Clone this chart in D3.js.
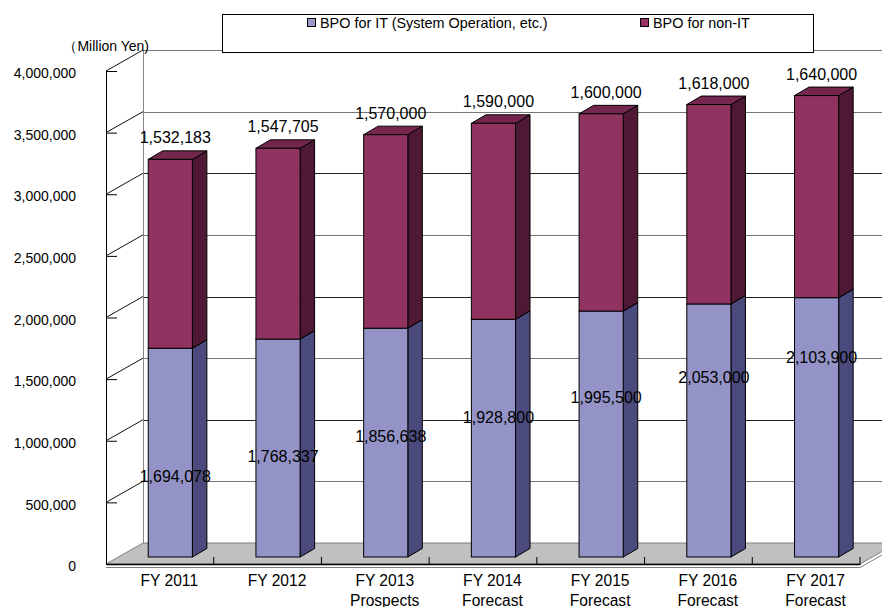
<!DOCTYPE html>
<html>
<head>
<meta charset="utf-8">
<script src="https://cdnjs.cloudflare.com/ajax/libs/d3/7.8.5/d3.min.js"></script>
<style>
  body { margin: 0; background: #fff; }
  svg { display: block; font-family: "Liberation Sans", Arial, sans-serif; }
</style>
</head>
<body>
<div class="chart"></div>
<script>
// data
var categories = ["FY 2011", "FY 2012", "FY 2013", "FY 2014", "FY 2015", "FY 2016", "FY 2017"];
var subLabels = ["", "", "Prospects", "Forecast", "Forecast", "Forecast", "Forecast"];
var itValues = [1694078, 1768337, 1856638, 1928800, 1995500, 2053000, 2103900];
var nonItValues = [1532183, 1547705, 1570000, 1590000, 1600000, 1618000, 1640000];
var seriesNames = ["BPO for IT (System Operation, etc.)", "BPO for non-IT"];
var yTicks = [0, 500000, 1000000, 1500000, 2000000, 2500000, 3000000, 3500000, 4000000];

var width = 882, height = 607;
var front = { left: 106, right: 860, bottom: 564, top: 71 };
var depth = { dx: 37, dy: -21 };       // wall depth offset
var side = { dx: 14.5, dy: -8.5 };     // bar depth offset
var lift = 7;                          // bar front sits a bit back from the front plane

var colors = {
  it:    { front: "#9393c7", side: "#4a4a7c", top: "#6f6fa3", legend: "#9999cc" },
  nonIt: { front: "#913360", side: "#4f1834", top: "#74264e", legend: "#993366" }
};

var rows = categories.map(function(c, i) {
  return { cat: c, it: itValues[i], nonIt: nonItValues[i] };
});
var stacked = d3.stack().keys(["it", "nonIt"])(rows);

var svg = d3.select(".chart").append("svg")
  .attr("width", width)
  .attr("height", height);

var x = d3.scaleBand().domain(categories).range([front.left, front.right]);
var step = x.step();
var barW = step * 0.41;
var barX = function(c) { return x(c) + step * 0.392; };

var y = d3.scaleLinear().domain([0, 4000000]).range([front.bottom, front.top]);

// back wall grid
svg.append("g").selectAll("line")
  .data(yTicks.slice(1))
  .join("line")
    .attr("x1", front.left + depth.dx)
    .attr("x2", width)
    .attr("y1", function(d) { return Math.round(y(d) + depth.dy) + 0.5; })
    .attr("y2", function(d) { return Math.round(y(d) + depth.dy) + 0.5; })
    .attr("stroke", function(d, i, all) { return (i % 2 && i < all.length - 1) ? "#222" : "#777"; });

// side wall grid
svg.append("g").selectAll("line")
  .data(yTicks.slice(1))
  .join("line")
    .attr("x1", front.left)
    .attr("y1", function(d) { return y(d); })
    .attr("x2", front.left + depth.dx)
    .attr("y2", function(d) { return y(d) + depth.dy; })
    .attr("stroke", "#111");

svg.append("line")
  .attr("x1", front.left + depth.dx + 0.5).attr("x2", front.left + depth.dx + 0.5)
  .attr("y1", y(4000000) + depth.dy).attr("y2", y(0) + depth.dy)
  .attr("stroke", "#888");

// floor
svg.append("polygon")
  .attr("points", [
    [front.left, y(0)], [front.right, y(0)],
    [front.right + depth.dx, y(0) + depth.dy], [front.left + depth.dx, y(0) + depth.dy]
  ].join(" "))
  .attr("fill", "#c0c0c0")
  .attr("stroke", "#808080");

svg.append("path")
  .attr("d", "M" + front.left + "," + (y(0) + 3.5) + "H" + front.right +
             "L" + (front.right + depth.dx) + "," + (y(0) + 3.5 + depth.dy))
  .attr("fill", "none")
  .attr("stroke", "#808080");

// bars
var layer = svg.append("g").selectAll("g")
  .data(stacked)
  .join("g")
    .attr("stroke", "#000")
    .attr("stroke-width", 1);

layer.each(function(s) {
  var col = colors[s.key];
  var g = d3.select(this);
  var bars = g.selectAll("g").data(s).join("g");

  bars.append("polygon")
    .attr("fill", col.side)
    .attr("points", function(d) {
      var xr = barX(d.data.cat) + barW, y0 = y(d[0]) - lift, y1 = y(d[1]) - lift;
      return [[xr, y0], [xr + side.dx, y0 + side.dy], [xr + side.dx, y1 + side.dy], [xr, y1]].join(" ");
    });

  bars.append("polygon")
    .attr("fill", col.top)
    .attr("points", function(d) {
      var xl = barX(d.data.cat), y1 = y(d[1]) - lift;
      return [[xl, y1], [xl + barW, y1], [xl + barW + side.dx, y1 + side.dy], [xl + side.dx, y1 + side.dy]].join(" ");
    });

  bars.append("rect")
    .attr("fill", col.front)
    .attr("x", function(d) { return barX(d.data.cat); })
    .attr("y", function(d) { return y(d[1]) - lift; })
    .attr("width", barW)
    .attr("height", function(d) { return y(d[0]) - y(d[1]); });
});

// y axis on the front plane
var yAxis = d3.axisLeft(y)
  .tickValues(yTicks)
  .tickSizeInner(-11)
  .tickSizeOuter(0)
  .tickPadding(30)
  .tickFormat(d3.format(","));

svg.append("g")
  .attr("transform", "translate(" + front.left + ",0)")
  .call(yAxis)
  .call(function(g) {
    g.selectAll("text").attr("font-size", 14).attr("font-family", null).attr("dy", "0.48em").attr("fill", "#000");
    g.selectAll("line, path").attr("stroke", "#000");
  });

svg.append("text")
  .attr("x", 149).attr("y", 51)
  .attr("text-anchor", "end")
  .attr("font-size", 14)
  .text("（Million Yen)");

// category axis
var xAxis = d3.axisBottom(x)
  .tickSizeInner(-7)
  .tickSizeOuter(0)
  .tickFormat("");

svg.append("g")
  .attr("transform", "translate(0," + front.bottom + ")")
  .call(xAxis)
  .call(function(g) {
    g.selectAll(".tick line").attr("transform", "translate(" + step / 2 + ",0)").attr("stroke", "#000");
    g.select(".domain").attr("stroke", "#000").attr("stroke-width", 1.5);
  });

var catText = svg.append("g").selectAll("text")
  .data(categories)
  .join("text")
    .attr("text-anchor", "middle")
    .attr("font-size", 15.6)
    .attr("x", function(d) { return barX(d) + barW / 2 - 1; })
    .attr("y", 585.5);

catText.append("tspan").text(function(d) { return d; });
catText.append("tspan")
  .attr("x", function(d) { return barX(d) + barW / 2 - 1; })
  .attr("dy", 20)
  .text(function(d, i) { return subLabels[i]; });

// value labels
var fmt = d3.format(",");

svg.append("g").selectAll("text")
  .data(stacked[0])
  .join("text")
    .attr("text-anchor", "middle")
    .attr("font-size", 16)
    .attr("x", function(d) { return barX(d.data.cat) + barW / 2 + 5; })
    .attr("y", function(d, i) { return y(0) - 82 - i * 19.8; })
    .text(function(d) { return fmt(d.data.it); });

svg.append("g").selectAll("text")
  .data(stacked[1])
  .join("text")
    .attr("text-anchor", "middle")
    .attr("font-size", 16)
    .attr("x", function(d) { return barX(d.data.cat) + barW / 2 + 5; })
    .attr("y", function(d) { return y(d[1]) - lift - 16; })
    .text(function(d) { return fmt(d.data.nonIt); });

// legend
var legend = svg.append("g");
legend.append("rect")
  .attr("x", 222.5).attr("y", 14.5)
  .attr("width", 591).attr("height", 38)
  .attr("fill", "#fff")
  .attr("stroke", "#000");

var legendX = [307, 640];
var item = legend.selectAll("g.item")
  .data(seriesNames)
  .join("g")
    .attr("class", "item")
    .attr("transform", function(d, i) { return "translate(" + legendX[i] + ",18)"; });

item.append("rect")
  .attr("x", 0.5).attr("y", 0.5)
  .attr("width", 8).attr("height", 8)
  .attr("fill", function(d, i) { return i ? colors.nonIt.legend : colors.it.legend; })
  .attr("stroke", "#000");

item.append("text")
  .attr("x", 13).attr("y", 9.5)
  .attr("font-size", 14.4)
  .text(function(d) { return d; });
</script>
</body>
</html>
